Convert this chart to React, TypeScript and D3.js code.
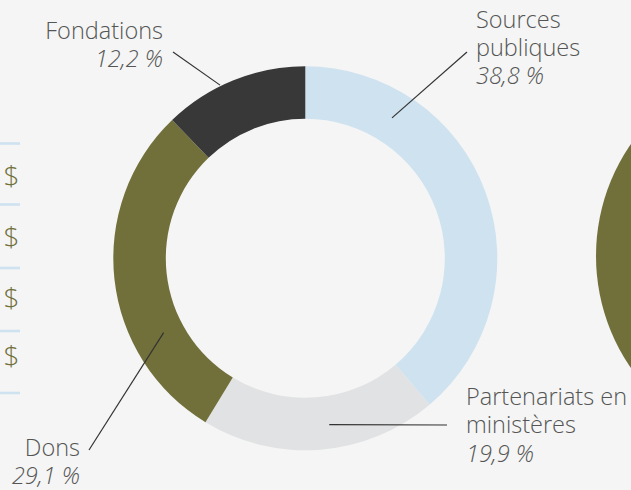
import React from "react";
import * as d3 from "d3";

const categories = ["Sources publiques", "Partenariats en ministères", "Dons", "Fondations"];
const values = [38.8, 19.9, 29.1, 12.2];
const valueLabels = ["38,8 %", "19,9 %", "29,1 %", "12,2 %"];
const colors = ["#cfe2f0", "#e1e2e3", "#716f3a", "#383838"];
// label layout: lines of text, anchor, x, first baseline, leader anchor angle (deg), leader radius, leader outer end
const labelLines = [["Sources", "publiques"], ["Partenariats en", "ministères"], ["Dons"], ["Fondations"]];
const labelAnchor = ["start", "start", "end", "end"];
const labelX = [476, 466, 80, 163];
const labelY = [27.5, 405, 455.5, 39];
const leaderAngle = [31.7, 171.8, 242.3, 333.8];
const leaderRadius = [165, 168, 160, 193];
const leaderEnd = [[467, 52], [447, 425], [89, 450], [173, 52]];

const W = 631, H = 490;
const cx = 305.3, cy = 258.3;
const rOuter = 192, rInner = 139.5;
const lineH = 28.3;

export default function App() {
  const pie = d3.pie<number>().sort(null).value((d) => d)(values);
  const arc = d3.arc<d3.PieArcDatum<number>>().innerRadius(rInner).outerRadius(rOuter);
  const font = "'Open Sans', sans-serif";
  return (
    <svg width={W} height={H} style={{ position: "fixed", left: 0, top: 0, background: "#f4f5f4" }}>
      <rect width={W} height={H} fill="#f4f5f4" />
      {/* cropped neighbouring panel, left */}
      {[143.5, 204.5, 268, 331, 393].map((y, i) => (
        <rect key={"l" + i} x={0} y={y - 1.3} width={20} height={2.6} fill="#cfe2f0" />
      ))}
      {[185.5, 246.5, 307.5, 366].map((y, i) => (
        <text key={"d" + i} x={11.5} y={y} textAnchor="middle" fontFamily={font} fontWeight={300} fontSize={28} fill="#716f3a">$</text>
      ))}
      {/* cropped neighbouring panel, right */}
      <circle cx={793} cy={256} r={197} fill="#716f3a" />
      <g transform={`translate(${cx},${cy})`}>
        {pie.map((p, i) => (
          <path key={i} d={arc(p) || ""} fill={colors[i]} />
        ))}
      </g>
      {categories.map((c, i) => {
        const a = (leaderAngle[i] * Math.PI) / 180;
        const x1 = cx + leaderRadius[i] * Math.sin(a);
        const y1 = cy - leaderRadius[i] * Math.cos(a);
        const lines = [...labelLines[i], valueLabels[i]];
        return (
          <g key={c}>
            <line x1={x1} y1={y1} x2={leaderEnd[i][0]} y2={leaderEnd[i][1]} stroke="#333" strokeWidth={1.2} />
            <text fontFamily={font} fontWeight={300} fontSize={23.5} fill="#555" textAnchor={labelAnchor[i]}>
              {lines.map((l, j) => (
                <tspan key={j} x={labelX[i]} y={labelY[i] + j * lineH} fontStyle={j === lines.length - 1 ? "italic" : "normal"}>
                  {l}
                </tspan>
              ))}
            </text>
          </g>
        );
      })}
    </svg>
  );
}
